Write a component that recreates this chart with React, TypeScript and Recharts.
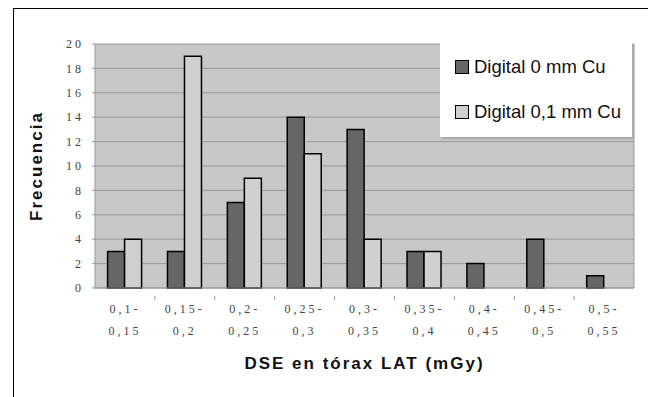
import { BarChart, Bar, XAxis, YAxis, CartesianGrid, Legend } from "recharts";

const categories = ["0,1-0,15", "0,15-0,2", "0,2-0,25", "0,25-0,3", "0,3-0,35", "0,35-0,4", "0,4-0,45", "0,45-0,5", "0,5-0,55"];
const digital0 = [3, 3, 7, 14, 13, 3, 2, 4, 1];
const digital01 = [4, 19, 9, 11, 4, 3, 0, 0, 0];
const yTicks = [0, 2, 4, 6, 8, 10, 12, 14, 16, 18, 20];

const data = categories.map((c, i) => ({ range: c, d0: digital0[i], d01: digital01[i] }));

const serif = "'Liberation Serif', 'DejaVu Serif', serif";
const sans = "'Liberation Sans', Arial, sans-serif";

function XTick(props: any) {
  const { x, y, payload, index } = props;
  const [a, b] = String(payload.value).split("-");
  const half = payload.offset;
  return (
    <g transform={`translate(${x},${y})`}>
      {typeof half === "number" && index > 0 ? (
        <line x1={-half} x2={-half} y1={0} y2={4} stroke="#999" />
      ) : null}
      <text x={0} y={17} textAnchor="middle" fontFamily={serif} fontSize={12} fill="#444" letterSpacing={3}>
        {a + "-"}
      </text>
      <text x={0} y={39} textAnchor="middle" fontFamily={serif} fontSize={12} fill="#444" letterSpacing={3}>
        {b}
      </text>
    </g>
  );
}

function LegendBox() {
  const items = [
    { label: "Digital 0 mm Cu", fill: "#666666" },
    { label: "Digital 0,1 mm Cu", fill: "#d0d0d0" },
  ];
  return (
    <div
      style={{
        width: 192,
        height: 94,
        background: "#fff",
        boxShadow: "2px 2px 1px #aaa",
        boxSizing: "border-box",
        paddingTop: 12,
        paddingLeft: 15,
      }}
    >
      {items.map((it) => (
        <div key={it.label} style={{ display: "flex", alignItems: "center", height: 24, marginBottom: 21 }}>
          <div style={{ width: 12, height: 12, background: it.fill, border: "1px solid #000", marginRight: 5 }} />
          <span style={{ fontFamily: sans, fontSize: 18.5, color: "#111" }}>{it.label}</span>
        </div>
      ))}
    </div>
  );
}

export default function App() {
  return (
    <div style={{ marginLeft: 5, width: 639, height: 400, border: "1px solid #000" }}>
      <BarChart
        width={639}
        height={385}
        data={data}
        margin={{ top: 35, right: 19, left: 0, bottom: 0 }}
        barCategoryGap="21%"
        barGap={0}
      >
        <CartesianGrid
          fill="#c8c8c8"
          stroke="#999"
          vertical={true}
          verticalCoordinatesGenerator={({ offset }: any) => [offset.left + offset.width]}
        />
        <XAxis
          dataKey="range"
          height={106}
          interval={0}
          tick={<XTick />}
          tickLine={false}
          stroke="#999"
          label={{
            value: "DSE en tórax LAT (mGy)",
            position: "insideBottom",
            offset: 25,
            style: { fontFamily: sans, fontSize: 17, fontWeight: "bold", fill: "#111", letterSpacing: 2 },
          }}
        />
        <YAxis
          width={81}
          domain={[0, 20]}
          ticks={yTicks}
          interval={0}
          stroke="#999"
          tickSize={3}
          tickMargin={8}
          tick={{ fontFamily: serif, fontSize: 12, fill: "#444", letterSpacing: 3 }}
          label={{
            value: "Frecuencia",
            angle: -90,
            position: "insideLeft",
            offset: 22,
            style: { fontFamily: sans, fontSize: 17, fontWeight: "bold", fill: "#111", textAnchor: "middle", letterSpacing: 2 },
          }}
        />
        <Legend
          layout="horizontal"
          verticalAlign="middle"
          align="center"
          content={<LegendBox />}
          wrapperStyle={{ left: 426, top: 34, width: 192, height: 94 }}
        />
        <Bar dataKey="d0" name="Digital 0 mm Cu" fill="#666666" stroke="#000" strokeWidth={1.5} isAnimationActive={false} />
        <Bar dataKey="d01" name="Digital 0,1 mm Cu" fill="#d0d0d0" stroke="#000" strokeWidth={1.5} isAnimationActive={false} />
      </BarChart>
    </div>
  );
}
